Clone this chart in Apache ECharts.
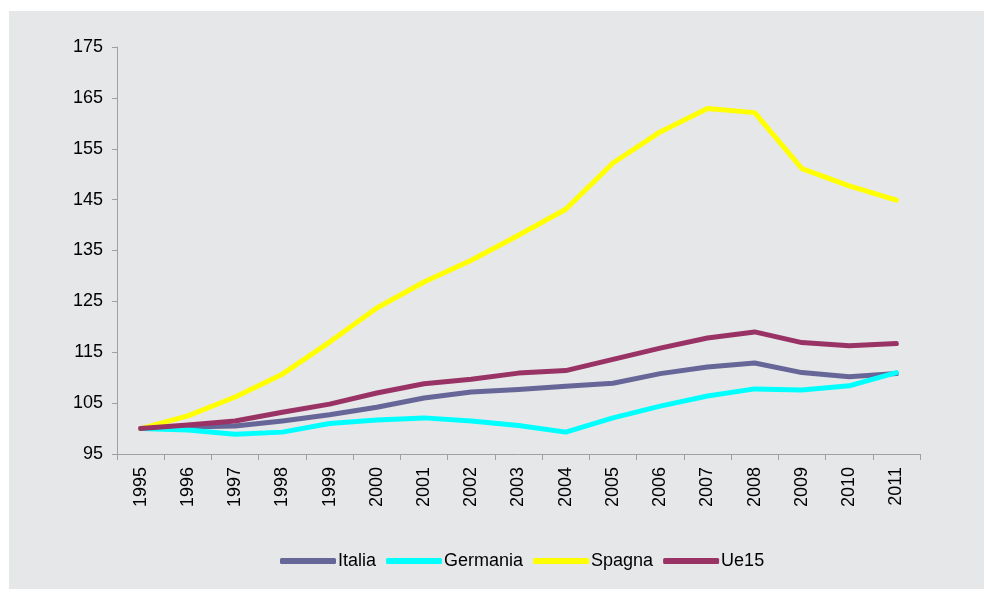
<!DOCTYPE html>
<html>
<head>
<meta charset="utf-8">
<title>Indice 1995 = 100</title>
<script src="https://cdn.jsdelivr.net/npm/echarts@6/dist/echarts.min.js"></script>
<style>
  html, body { margin: 0; padding: 0; background: #ffffff; }
  #chart { width: 984px; height: 589px; }
</style>
</head>
<body>
<div id="chart"></div>
<script>
// Years on the category axis
const years = ['1995','1996','1997','1998','1999','2000','2001','2002','2003','2004','2005','2006','2007','2008','2009','2010','2011'];

// Index values (1995 = 100)
const italia   = [100, 100.3, 100.5, 101.5, 102.7, 104.2, 106.0, 107.2, 107.7, 108.3, 108.9, 110.8, 112.1, 112.9, 111.0, 110.2, 110.8];
const germania = [100, 99.7, 98.9, 99.3, 101.0, 101.7, 102.1, 101.5, 100.6, 99.3, 102.1, 104.4, 106.4, 107.8, 107.6, 108.4, 111.0];
const spagna   = [100, 102.5, 106.2, 110.7, 117.0, 123.7, 128.8, 133.1, 138.0, 143.1, 152.2, 158.3, 162.9, 162.1, 151.1, 147.7, 144.9];
const ue15     = [100, 100.7, 101.5, 103.2, 104.8, 107.0, 108.8, 109.7, 110.9, 111.4, 113.6, 115.8, 117.8, 119.0, 116.9, 116.3, 116.7];

const yTicks = { min: 95, max: 175, step: 10 };

const font = 'Liberation Sans, Arial, sans-serif';
const axisGray = '#a0a0a0';

function lineSeries(name, data, color) {
  return {
    name: name,
    type: 'line',
    data: data,
    symbol: 'none',
    smooth: false,
    lineStyle: { color: color, width: 5, cap: 'round', join: 'round' },
    itemStyle: { color: color },
    emphasis: { disabled: true }
  };
}

const chart = echarts.init(document.getElementById('chart'), null, { renderer: 'canvas' });

chart.setOption({
  animation: false,
  backgroundColor: '#ffffff',
  graphic: [{
    type: 'rect',
    z: -10,
    silent: true,
    shape: { x: 9, y: 11, width: 975, height: 578 },
    style: { fill: '#e6e7e8' }
  }],
  grid: { left: 117, right: 64, top: 47, bottom: 135, containLabel: false },
  legend: {
    bottom: 14,
    left: 275,
    itemWidth: 56,
    itemHeight: 6,
    itemGap: 10,
    icon: 'roundRect',
    textStyle: { fontFamily: font, fontSize: 18, color: '#000000', padding: [0, 0, 0, -3] },
    data: ['Italia', 'Germania', 'Spagna', 'Ue15']
  },
  xAxis: {
    type: 'category',
    data: years,
    boundaryGap: true,
    axisLine: { lineStyle: { color: axisGray, width: 1 } },
    axisTick: { show: true, length: 6, alignWithLabel: false, lineStyle: { color: axisGray } },
    axisLabel: { rotate: 90, margin: 13, fontFamily: font, fontSize: 18, color: '#000000', interval: 0 },
    splitLine: { show: false }
  },
  yAxis: {
    type: 'value',
    min: yTicks.min,
    max: yTicks.max,
    interval: yTicks.step,
    axisLine: { show: true, lineStyle: { color: axisGray, width: 1 } },
    axisTick: { show: true, length: 5, lineStyle: { color: axisGray } },
    axisLabel: { margin: 14, fontFamily: font, fontSize: 18, color: '#000000' },
    splitLine: { show: false }
  },
  series: [
    lineSeries('Italia', italia, '#666699'),
    lineSeries('Germania', germania, '#00ffff'),
    lineSeries('Spagna', spagna, '#ffff00'),
    lineSeries('Ue15', ue15, '#993366')
  ]
});
</script>
</body>
</html>
